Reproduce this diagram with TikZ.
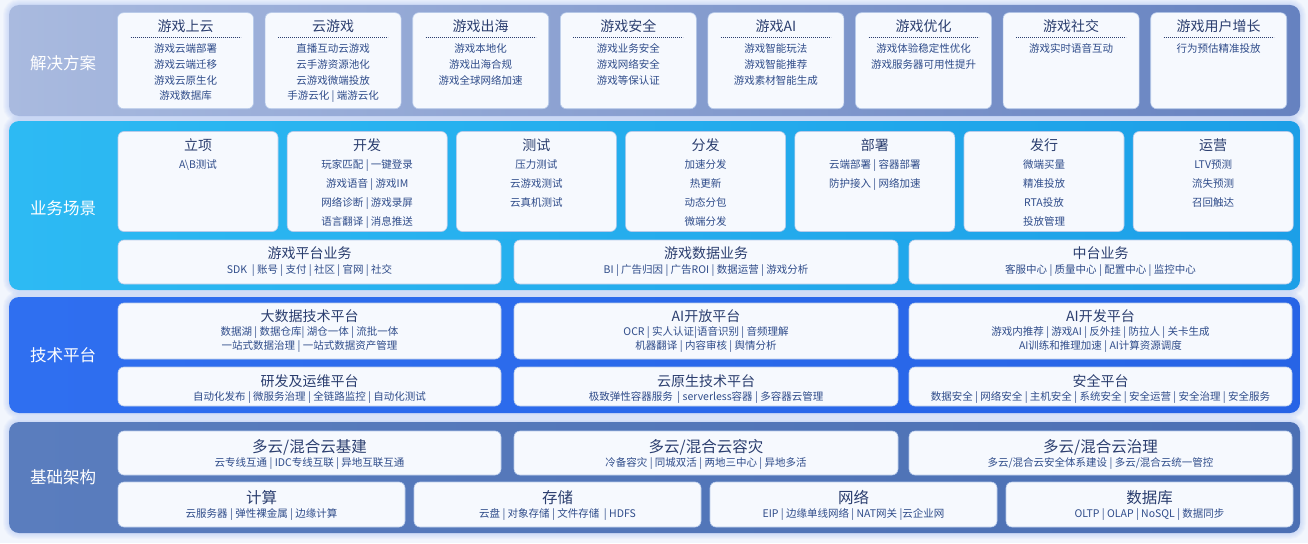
\documentclass[tikz,border=0pt]{standalone}
\usepackage{fontspec}
\setmainfont{Noto Sans CJK SC}
\usetikzlibrary{calc}
\definecolor{bgc}{HTML}{F2F6FD}
\definecolor{glowc}{HTML}{9DB8F0}
\definecolor{bAl}{HTML}{A9BADF}
\definecolor{bAr}{HTML}{6682C0}
\definecolor{bBl}{HTML}{2DBAF3}
\definecolor{bBr}{HTML}{1C9FE7}
\definecolor{bCl}{HTML}{2F6FF0}
\definecolor{bCr}{HTML}{2764E6}
\definecolor{bDl}{HTML}{5A7DBE}
\definecolor{bDr}{HTML}{4C70B4}
\definecolor{boxfill}{HTML}{F6F9FE}
\definecolor{boxline}{HTML}{B8CBEA}
\definecolor{ttlc}{HTML}{2B3E6F}
\definecolor{bodyc}{HTML}{2F4C8A}
\tikzset{
  bandbox/.style={inner sep=0pt, rounded corners=10pt},
  box/.style={draw=boxline, line width=0.6pt, fill=boxfill, rounded corners=6pt, inner sep=0pt},
  ttl/.style={font=\fontsize{14}{16}\selectfont, text=ttlc, inner sep=0pt, text height=12.3pt, text depth=1.7pt},
  bigttl/.style={font=\fontsize{15.5}{17}\selectfont, text=ttlc, inner sep=0pt, text height=13.6pt, text depth=1.9pt},
  midttl/.style={font=\fontsize{14}{16}\selectfont, text=ttlc, inner sep=0pt, text height=12.3pt, text depth=1.7pt},
  body/.style={font=\fontsize{10.5}{12}\selectfont, text=bodyc, inner sep=0pt, text height=9.2pt, text depth=1.3pt},
  side/.style={font=\fontsize{16.5}{18}\selectfont, text=white, inner sep=0pt, text height=14.5pt, text depth=2pt},
  dotline/.style={draw=ttlc, line width=0.6pt, dash pattern=on 0.8pt off 1.2pt},
}
\newcommand\boxlines[5]{%
  \foreach \t [count=\i] in {#5}{\node[body] (#1l\i) at (#2,{#3+#4*(\i-1)}) {\t};}}
\newcommand\solbox[4]{%
  \pgfmathsetmacro\mycx{185.5+147.6*#2}
  \node[box, minimum width=136pt, minimum height=96pt] (#1) at (\mycx,60.7) {};
  \node[ttl] (#1t) at (\mycx,26.3) {#3};
  \draw[dotline] ($(#1t)+(-55,11)$) -- ($(#1t)+(55,11)$);
  \boxlines{#1}{\mycx}{48.3}{15.9}{#4}}
\newcommand\scnbox[4]{%
  \pgfmathsetmacro\mycx{198+169.2*#2}
  \node[box, minimum width=160pt, minimum height=100pt] (#1) at (\mycx,181.5) {};
  \node[midttl] (#1t) at (\mycx,145) {#3};
  \boxlines{#1}{\mycx}{164.5}{19}{#4}}
% name, cx, cy, w, h, title style, title y, title
\newcommand\gbox[8]{%
  \node[box, minimum width=#4pt, minimum height=#5pt] (#1) at (#2,#3) {};
  \node[#6] (#1t) at (#2,#7) {#8};}
\newcommand\band[7]{% name, x1,y1,x2,y2, left, right
  \foreach \k in {1,...,6}{\draw[glowc, opacity=0.07, line width=2*\k pt, rounded corners=10pt] (#2,#3) rectangle (#4,#5);}
  \path[left color=#6, right color=#7, rounded corners=10pt] (#2,#3) rectangle (#4,#5);
  \node[bandbox, minimum width={#4-#2}, minimum height={#5-#3}] (#1) at ({(#2+#4)/2},{(#3+#5)/2}) {};}
\begin{document}
\begin{tikzpicture}[x=1pt,y=-1pt]
\useasboundingbox (0,0) rectangle (1308,543);
\fill[bgc] (0,0) rectangle (1308,543);
% ---------- bands
\band{bandA}{9}{5}{1300}{116}{bAl}{bAr}
\band{bandB}{9}{121}{1300}{290}{bBl}{bBr}
\band{bandC}{9}{297}{1300}{413}{bCl}{bCr}
\band{bandD}{9}{422}{1300}{533}{bDl}{bDr}
\node[side] (sideA) at (63,63) {解决方案};
\node[side] (sideB) at (63,208) {业务场景};
\node[side] (sideC) at (63,355) {技术平台};
\node[side] (sideD) at (63,477) {基础架构};
% ---------- 解决方案
\solbox{sA}{0}{游戏上云}{游戏云端部署,游戏云端迁移,游戏云原生化,游戏数据库}
\solbox{sB}{1}{云游戏}{直播互动云游戏,云手游资源池化,云游戏微端投放,手游云化 | 端游云化}
\solbox{sC}{2}{游戏出海}{游戏本地化,游戏出海合规,游戏全球网络加速}
\solbox{sD}{3}{游戏安全}{游戏业务安全,游戏网络安全,游戏等保认证}
\solbox{sE}{4}{游戏AI}{游戏智能玩法,游戏智能推荐,游戏素材智能生成}
\solbox{sF}{5}{游戏优化}{游戏体验稳定性优化,游戏服务器可用性提升}
\solbox{sG}{6}{游戏社交}{游戏实时语音互动}
\solbox{sH}{7}{游戏用户增长}{行为预估精准投放}
% ---------- 业务场景
\scnbox{pA}{0}{立项}{A\textbackslash B测试}
\scnbox{pB}{1}{开发}{玩家匹配 | 一键登录,游戏语音 | 游戏IM,网络诊断 | 游戏录屏,语言翻译 | 消息推送}
\scnbox{pC}{2}{测试}{压力测试,云游戏测试,云真机测试}
\scnbox{pD}{3}{分发}{加速分发,热更新,动态分包,微端分发}
\scnbox{pE}{4}{部署}{云端部署 | 容器部署,防护接入 | 网络加速}
\scnbox{pF}{5}{发行}{微端买量,精准投放,RTA投放,投放管理}
\scnbox{pG}{6}{运营}{LTV预测,流失预测,召回触达}
\gbox{qA}{309.5}{262}{383}{44}{midttl}{253}{游戏平台业务}
\boxlines{qA}{309.5}{269.5}{14}{SDK\ \ | 账号 | 支付 | 社区 | 官网 | 社交}
\gbox{qB}{706}{262}{384}{44}{midttl}{253}{游戏数据业务}
\boxlines{qB}{706}{269.5}{14}{BI | 广告归因 | 广告ROI | 数据运营 | 游戏分析}
\gbox{qC}{1100.5}{262}{383}{44}{midttl}{253}{中台业务}
\boxlines{qC}{1100.5}{269.5}{14}{客服中心 | 质量中心 | 配置中心 | 监控中心}
% ---------- 技术平台
\gbox{tA}{309.5}{331}{383}{56}{midttl}{316}{大数据技术平台}
\boxlines{tA}{309.5}{332}{14}{数据湖 | 数据仓库| 湖仓一体 | 流批一体,一站式数据治理 | 一站式数据资产管理}
\gbox{tB}{706}{331}{384}{56}{midttl}{316}{AI开放平台}
\boxlines{tB}{706}{332}{14}{OCR | 实人认证|语音识别 | 音频理解,机器翻译 | 内容审核 | 舆情分析}
\gbox{tC}{1100.5}{331}{383}{56}{midttl}{316}{AI开发平台}
\boxlines{tC}{1100.5}{332}{14}{游戏内推荐 | 游戏AI | 反外挂 | 防拉人 | 关卡生成,AI训练和推理加速 | AI计算资源调度}
\gbox{tD}{309.5}{386.5}{383}{39}{midttl}{381}{研发及运维平台}
\boxlines{tD}{309.5}{397}{14}{自动化发布 | 微服务治理 | 全链路监控 | 自动化测试}
\gbox{tE}{706}{386.5}{384}{39}{midttl}{381}{云原生技术平台}
\boxlines{tE}{706}{397}{14}{极致弹性容器服务\ \ | serverless容器 | 多容器云管理}
\gbox{tF}{1100.5}{386.5}{383}{39}{midttl}{381}{安全平台}
\boxlines{tF}{1100.5}{397}{14}{数据安全 | 网络安全 | 主机安全 | 系统安全 | 安全运营 | 安全治理 | 安全服务}
% ---------- 基础架构
\gbox{iA}{309.5}{453}{383}{44}{bigttl}{447}{多云/混合云基建}
\boxlines{iA}{309.5}{463}{14}{云专线互通 | IDC专线互联 | 异地互联互通}
\gbox{iB}{706}{453}{384}{44}{bigttl}{447}{多云/混合云容灾}
\boxlines{iB}{706}{463}{14}{冷备容灾 | 同城双活 | 两地三中心 | 异地多活}
\gbox{iC}{1100.5}{453}{383}{44}{bigttl}{447}{多云/混合云治理}
\boxlines{iC}{1100.5}{463}{14}{多云/混合云安全体系建设 | 多云/混合云统一管控}
\gbox{jA}{261.5}{504.5}{287}{45}{bigttl}{498}{计算}
\boxlines{jA}{261.5}{514}{14}{云服务器 | 弹性裸金属 | 边缘计算}
\gbox{jB}{557.5}{504.5}{287}{45}{bigttl}{498}{存储}
\boxlines{jB}{557.5}{514}{14}{云盘 | 对象存储 | 文件存储\ \ | HDFS}
\gbox{jC}{853.5}{504.5}{287}{45}{bigttl}{498}{网络}
\boxlines{jC}{853.5}{514}{14}{EIP | 边缘单线网络 | NAT网关 |云企业网}
\gbox{jD}{1149.5}{504.5}{287}{45}{bigttl}{498}{数据库}
\boxlines{jD}{1149.5}{514}{14}{OLTP | OLAP | NoSQL | 数据同步}
\end{tikzpicture}
\end{document}
